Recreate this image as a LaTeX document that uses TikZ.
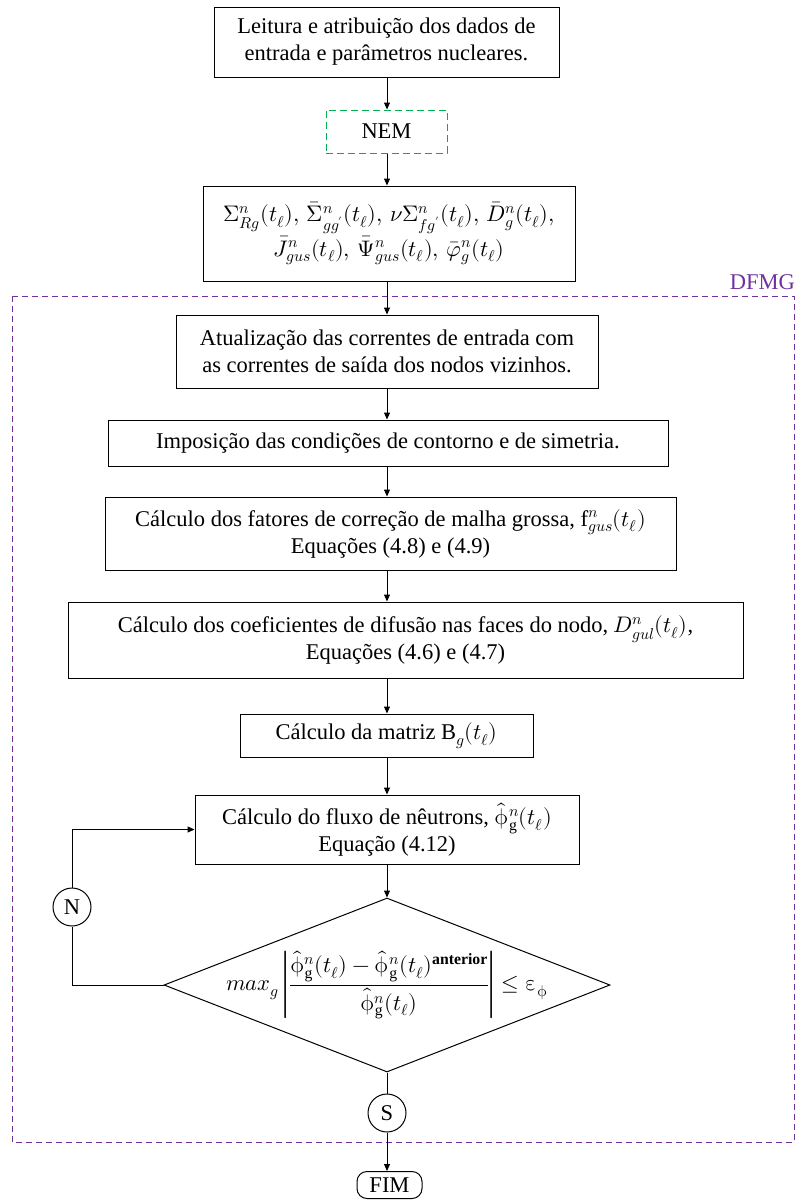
\documentclass[tikz,border=0pt]{standalone}
\usepackage{amsmath}
\usepackage{unicode-math}
\setmainfont{Liberation Serif}
\setmathfont{Latin Modern Math}
\usetikzlibrary{arrows.meta,shapes.geometric}
\definecolor{dfmgc}{HTML}{7030A0}
\definecolor{nemc}{HTML}{00B050}
\newcommand{\fhat}{\widehat{\upphi}^{n}_{\mathrm{g}}(t_\ell)}
\begin{document}
\begin{tikzpicture}[x=1pt,y=-1pt,
  font=\fontsize{22.5}{27}\selectfont,
  box/.style={draw, line width=1pt, align=center, inner sep=0pt},
  arr/.style={-{Triangle[length=7pt,width=6pt]}, line width=1pt},
  ln/.style={line width=1pt},
  circ/.style={draw, circle, line width=1pt, minimum size=38pt, inner sep=0pt}]
\useasboundingbox (0,0) rectangle (796,1200);
\coordinate (ax) at (387,0);
% DFMG frame
\draw[dfmgc, dashed, dash pattern=on 6pt off 4pt, line width=1pt] (12,296) rectangle (794,1142);
\node[dfmgc, anchor=south east, inner sep=0pt] (dfmglbl) at (795,290) {DFMG};
% boxes
\node[box, minimum width=345pt, minimum height=70pt] (b1) at (386.5,42) {Leitura e atribuição dos dados de\\entrada e parâmetros nucleares.};
\node[box, draw=nemc, dashed, dash pattern=on 7pt off 4pt, minimum width=121pt, minimum height=43pt] (nem) at (386.5,131.5) {NEM};
\node[box, minimum width=372pt, minimum height=95pt] (form) at (389,233.5)
  {$\Sigma^{n}_{Rg}(t_\ell),\,\bar{\Sigma}^{n}_{gg'}(t_\ell),\,\nu\Sigma^{n}_{fg'}(t_\ell),\,\bar{D}^{n}_{g}(t_\ell),$\\[2pt]
   $\bar{J}^{n}_{gus}(t_\ell),\,\bar{\Psi}^{n}_{gus}(t_\ell),\,\bar{\varphi}^{n}_{g}(t_\ell)$};
\node[box, minimum width=422pt, minimum height=73pt] (atual) at (387,351.5) {Atualização das correntes de entrada com\\as correntes de saída dos nodos vizinhos.};
\node[box, minimum width=560pt, minimum height=46pt] (impos) at (388,443) {Imposição das condições de contorno e de simetria.};
\node[box, minimum width=571pt, minimum height=73pt] (fgus) at (390.5,533.5) {Cálculo dos fatores de correção de malha grossa, $\mathrm{f}^{n}_{gus}(t_\ell)$\\Equações (4.8) e (4.9)};
\node[box, minimum width=675pt, minimum height=76pt] (dgul) at (405.5,640) {Cálculo dos coeficientes de difusão nas faces do nodo, $D^{n}_{gul}(t_\ell)$,\\Equações (4.6) e (4.7)};
\node[box, minimum width=293pt, minimum height=43pt] (matriz) at (386.5,735.5) {Cálculo da matriz $\mathrm{B}_{g}(t_\ell)$};
\node[box, minimum width=384pt, minimum height=69pt] (flux) at (387,829.5) {Cálculo do fluxo de nêutrons, $\fhat$\\Equação (4.12)};
\node[draw, diamond, line width=1pt, minimum width=446pt, minimum height=174pt, inner sep=0pt] (dec) at (387,985) {};
\node[inner sep=0pt] (dectxt) at (dec.center)
  {$max_{g}\left|\dfrac{\fhat-\fhat^{\mathbf{anterior}}}{\rule{0pt}{21pt}\fhat}\right|\le\upvarepsilon_{\upphi}$};
\node[circ] (N) at (72,907) {N};
\node[circ] (S) at (387,1113) {S};
\node[draw, line width=1pt, rounded corners=10pt, minimum width=65pt, minimum height=27pt, inner sep=0pt] (fim) at (389.5,1185) {FIM};
% connectors
\draw[arr] (ax |- b1.south) -- (ax |- nem.north);
\draw[arr] (ax |- nem.south) -- (ax |- form.north);
\draw[arr] (ax |- form.south) -- (ax |- atual.north);
\draw[arr] (ax |- atual.south) -- (ax |- impos.north);
\draw[arr] (ax |- impos.south) -- (ax |- fgus.north);
\draw[arr] (ax |- fgus.south) -- (ax |- dgul.north);
\draw[arr] (ax |- dgul.south) -- (ax |- matriz.north);
\draw[arr] (ax |- matriz.south) -- (ax |- flux.north);
\draw[arr] (ax |- flux.south) -- (dec.north);
\draw[ln] (dec.west) -| (N.south);
\draw[arr] (N.north) |- (flux.west);
\draw[ln] (dec.south) -- (S.north);
\draw[arr] (S.south) -- (S.south |- fim.north);
\end{tikzpicture}
\end{document}
